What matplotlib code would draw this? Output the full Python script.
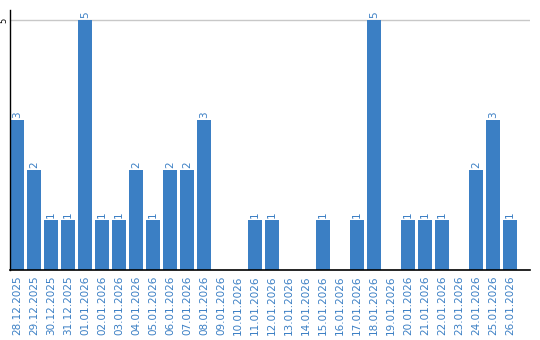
import matplotlib
matplotlib.use('Agg')
import matplotlib.pyplot as plt

dates = ['28.12.2025', '29.12.2025', '30.12.2025', '31.12.2025', '01.01.2026',
         '02.01.2026', '03.01.2026', '04.01.2026', '05.01.2026', '06.01.2026',
         '07.01.2026', '08.01.2026', '09.01.2026', '10.01.2026', '11.01.2026',
         '12.01.2026', '13.01.2026', '14.01.2026', '15.01.2026', '16.01.2026',
         '17.01.2026', '18.01.2026', '19.01.2026', '20.01.2026', '21.01.2026',
         '22.01.2026', '23.01.2026', '24.01.2026', '25.01.2026', '26.01.2026']
counts = [3, 2, 1, 1, 5, 1, 1, 2, 1, 2, 2, 3, 0, 0, 1, 1, 0, 0, 1, 0,
          1, 5, 0, 1, 1, 1, 0, 2, 3, 1]

bar_col = '#3b7fc4'
txt_col = '#3b7fc4'

fig = plt.figure(figsize=(5.4, 3.4), dpi=100)
ax = fig.add_axes([10/540, 70/340, 520/540, 260/340])

x = list(range(len(dates)))
ax.bar(x, counts, width=0.82, color=bar_col, zorder=2)
for i, v in enumerate(counts):
    if v > 0:
        ax.text(i, v + 0.05, str(v), rotation=90, ha='center', va='bottom',
                fontsize=7.5, color=txt_col)

ax.set_xlim(-0.41, 30.18)
ax.set_ylim(0, 5.2)
ax.set_yticks([5])
ax.set_yticklabels(['5'], rotation=90, va='center', fontsize=6)
ax.tick_params(axis='y', length=0, pad=1)
ax.axhline(5, color='#c8c8c8', lw=1, zorder=1)

ax.set_xticks(x)
ax.set_xticklabels(dates, rotation=90, fontsize=7.5, color=txt_col)
ax.tick_params(axis='x', length=0, pad=4)

for s in ['top', 'right']:
    ax.spines[s].set_visible(False)
ax.spines['left'].set_linewidth(1)
ax.spines['bottom'].set_linewidth(1.2)

fig.savefig('out.png', dpi=100)
